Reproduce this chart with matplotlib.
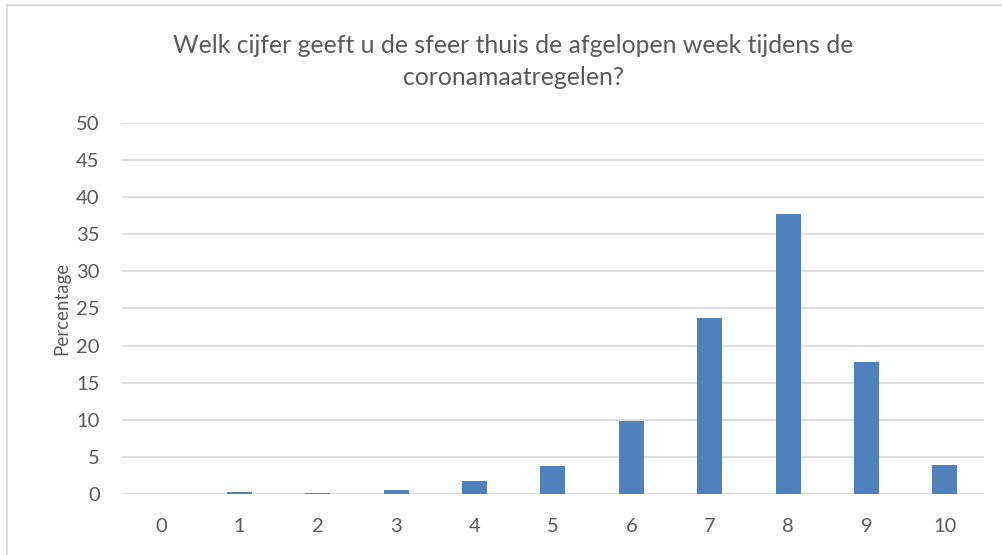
import matplotlib.pyplot as plt
from matplotlib.lines import Line2D

plt.rcParams['font.family'] = ['Lato', 'DejaVu Sans']

# cijfers en percentages
scores = ['0', '1', '2', '3', '4', '5', '6', '7', '8', '9', '10']
percentages = [0.0, 0.3, 0.1, 0.6, 1.7, 3.8, 9.8, 23.7, 37.8, 17.8, 3.9]
y_ticks = [0, 5, 10, 15, 20, 25, 30, 35, 40, 45, 50]

text_color = '#595959'
grid_color = '#d9d9d9'
bar_color = '#4f81bd'

fig = plt.figure(figsize=(10.03, 5.55), dpi=100)
ax = fig.add_axes([0.1216, 0.1099, 0.8594, 0.6685])

x = list(range(len(scores)))
ax.bar(x, percentages, width=0.32, color=bar_color, zorder=3)

ax.set_xlim(-0.5, len(scores) - 0.5)
ax.set_ylim(0, 50)
ax.set_yticks(y_ticks)
ax.set_xticks(x)
ax.set_xticklabels(scores)
ax.tick_params(axis='both', length=0, labelsize=14.5, colors=text_color)
ax.tick_params(axis='x', pad=17)
ax.tick_params(axis='y', pad=16)
ax.yaxis.grid(True, color=grid_color, linewidth=1.2, zorder=0)
for s in ax.spines.values():
    s.set_visible(False)

ax.set_ylabel('Percentage', fontsize=13.5, color=text_color, labelpad=4)

fig.text(0.512, 0.918, 'Welk cijfer geeft u de sfeer thuis de afgelopen week tijdens de',
         ha='center', va='center', fontsize=17.8, color=text_color)
fig.text(0.512, 0.861, 'coronamaatregelen?',
         ha='center', va='center', fontsize=17.8, color=text_color)

# kader rond de grafiek
fig.add_artist(Line2D([7 / 1003, 1], [1 - 5 / 555, 1 - 5 / 555], color=grid_color, linewidth=1.2))
fig.add_artist(Line2D([7 / 1003, 7 / 1003], [1 - 5 / 555, 0], color=grid_color, linewidth=1.2))

fig.savefig('out.png', dpi=100)
